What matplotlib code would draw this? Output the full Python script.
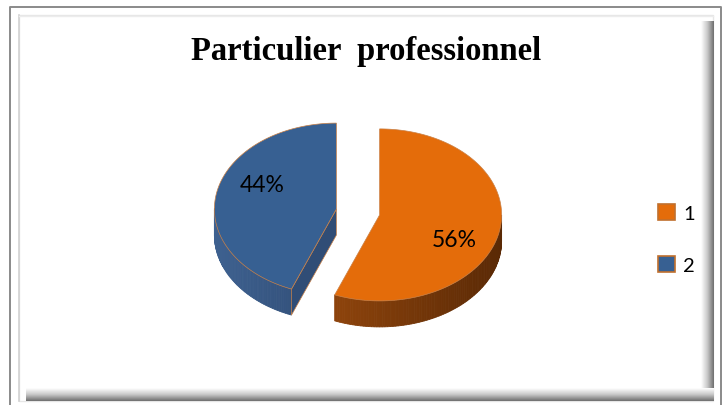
import numpy as np
import matplotlib
matplotlib.use("Agg")
import matplotlib.pyplot as plt
from matplotlib.patches import Polygon, Patch, Rectangle
from matplotlib.colors import to_rgb, LinearSegmentedColormap

TITLE = "Particulier  professionnel"
CATEGORIES = ["1", "2"]
SHARES = [56, 44]

TOP_COLORS = ["#E46C0A", "#376092"]
SIDE_DARK = ["#5A2905", "#1F3557"]
SIDE_LIGHT = ["#A5500F", "#3E6190"]
EDGE = "#C98046"

W, H = 723, 406

# pie geometry in pixel units
CX, CY = 358, 213
RX, RY = 122, 86
DEPTH = 26
EXPLODE = 22


def mix(c1, c2, t):
    a = np.array(to_rgb(c1))
    b = np.array(to_rgb(c2))
    return tuple(a * (1 - t) + b * t)


def pt(cx, cy, ang, r=1.0):
    a = np.radians(ang)
    return cx + r * RX * np.cos(a), cy - r * RY * np.sin(a)


def draw_frame(ax):
    # outer thin border
    ax.plot([10, 10, 721, 721], [410, 8, 8, 410], color="#8a8a8a", lw=1.4, zorder=1)
    # inner panel with soft shadow on right and bottom
    ax.add_patch(Rectangle((19, 16), 694, 386, facecolor="white",
                           edgecolor="#e6e6e6", lw=1.0, zorder=1))
    cmap = LinearSegmentedColormap.from_list("sh", ["#ffffff", "#c8c8c8", "#6e6e6e"])
    grad = np.linspace(0, 1, 64)
    ax.imshow(grad[None, :], cmap=cmap, extent=[701, 714, 402, 22],
              aspect="auto", zorder=2, interpolation="bilinear")
    ax.imshow(grad[:, None], cmap=cmap, extent=[26, 714, 389, 402],
              aspect="auto", zorder=2, interpolation="bilinear", origin="lower")
    ax.plot([19, 19], [16, 402], color="#d2d2d2", lw=1.2, zorder=2)
    ax.plot([19, 713], [17, 17], color="#ececec", lw=1.0, zorder=2)


def draw_slice(ax, cx, cy, a1, a2, i):
    # front outer wall, shaded by angle
    angs = np.linspace(a1, a2, 160)
    for k in range(len(angs) - 1):
        m = 0.5 * (angs[k] + angs[k + 1])
        if np.sin(np.radians(m)) >= 0:
            continue
        t = (1 - np.cos(np.radians(m))) / 2
        col = mix(SIDE_DARK[i], SIDE_LIGHT[i], t)
        p1 = pt(cx, cy, angs[k])
        p2 = pt(cx, cy, angs[k + 1])
        quad = [p1, p2, (p2[0], p2[1] + DEPTH), (p1[0], p1[1] + DEPTH)]
        ax.add_patch(Polygon(quad, closed=True, facecolor=col,
                             edgecolor=col, lw=0.6, zorder=3))
    # cut faces
    for a, normal in ((a1, a1 - 90), (a2, a2 + 90)):
        if np.sin(np.radians(normal)) < -0.05:
            e = pt(cx, cy, a)
            face = [(cx, cy), e, (e[0], e[1] + DEPTH), (cx, cy + DEPTH)]
            ax.add_patch(Polygon(face, closed=True,
                                 facecolor=mix(SIDE_DARK[i], SIDE_LIGHT[i], 0.55),
                                 edgecolor=EDGE, lw=0.5, zorder=3))
    # top face
    arc = [pt(cx, cy, a) for a in np.linspace(a1, a2, 200)]
    ax.add_patch(Polygon([(cx, cy)] + arc, closed=True, facecolor=TOP_COLORS[i],
                         edgecolor=EDGE, lw=0.5, zorder=4))


fig = plt.figure(figsize=(W / 100, H / 100), dpi=100)
ax = fig.add_axes([0, 0, 1, 1])

draw_frame(ax)

total = float(sum(SHARES))
start = 90.0
for i, v in enumerate(SHARES):
    sweep = 360.0 * v / total
    a2 = start
    a1 = start - sweep
    mid = 0.5 * (a1 + a2)
    cx = CX + EXPLODE * np.cos(np.radians(mid))
    cy = CY - EXPLODE * RY / RX * np.sin(np.radians(mid))
    draw_slice(ax, cx, cy, a1, a2, i)
    lx, ly = pt(cx, cy, mid - 14, 0.67)
    ax.text(lx, ly, f"{v}%", fontsize=16.5, family="Lato", ha="center",
            va="center", color="black", zorder=6)
    start = a1

ax.text(366, 60, TITLE, fontsize=23.5, family="Liberation Serif",
        fontweight="bold", ha="center", va="baseline", zorder=6)

# imshow resets the limits, so fix them last
ax.set_xlim(0, W)
ax.set_ylim(H, 0)
ax.axis("off")

handles = [Patch(facecolor=c, edgecolor="#C0702E", lw=1.2) for c in TOP_COLORS]
fig.legend(handles, CATEGORIES, loc="center left", bbox_to_anchor=(650 / W, 1 - 240 / H),
           frameon=False, prop={"family": "Lato", "size": 14.5},
           handlelength=0.85, handleheight=0.85, handletextpad=0.4,
           labelspacing=1.7, borderaxespad=0)

fig.savefig("out.png", dpi=100)
